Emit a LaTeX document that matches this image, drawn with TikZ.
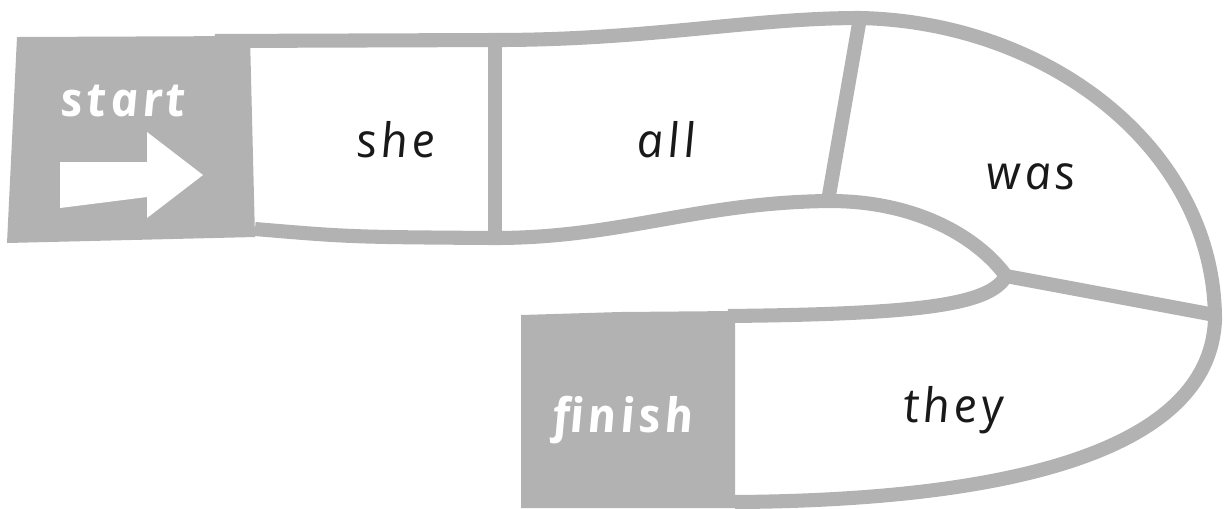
\documentclass[tikz,border=0pt]{standalone}
\usepackage{fontspec}
\setmainfont{Open Sans}[LetterSpace=8, ItalicFeatures={FakeSlant=-0.12}, BoldItalicFeatures={FakeSlant=-0.12}]
\definecolor{trackgray}{HTML}{B2B2B2}

\begin{document}
\begin{tikzpicture}[
    x=0.01cm, y=-0.01cm,
    node font=\fontsize{13.5}{16}\selectfont\itshape,
    track/.style={line width=4pt, draw=trackgray, line join=round},
    word/.style={text=black!90},
    end label/.style={text=white, font=\bfseries},
]

% Canvas
\useasboundingbox (0,0) rectangle (1229,508);

% Start and finish boxes
\fill[trackgray] (17,37) -- (250,36) -- (255,237) -- (7,243) -- cycle;
\fill[trackgray] (521,315) -- (620,312) -- (735,311) -- (735,508) -- (521,508) -- cycle;

% Outer edge of the track
\draw[track] (215,41) -- (495,40) .. controls (650,40) and (750,18) .. (860,18)
    .. controls (1050,22) and (1215,150) .. (1215,320)
    .. controls (1210,440) and (1040,500) .. (735,502);

% Inner edge of the track
\draw[track] (255,229) .. controls (350,237) .. (495,238)
    .. controls (620,238) and (700,202) .. (830,201)
    .. controls (920,201) and (980,240) .. (1006,276)
    .. controls (990,305) and (920,314) .. (728,316);

% Dividers between the squares
\draw[track] (495,40) -- (495,238);
\draw[track] (860,18) -- (828,201);
\draw[track] (1006,276) -- (1215,315);

% Start arrow
\fill[white] (60,162) -- (147,162) -- (147,132) -- (203,175) -- (147,218)
    -- (147,197) -- (60,208) -- cycle;

% Labels
\node[end label] (start) at (125,101) {start};
\node[end label] (finish) at (625,420) {finish};
\node[word] (she) at (398,140) {she};
\node[word] (all) at (668,140) {all};
\node[word] (was) at (1033,177) {was};
\node[word] (they) at (955,410) {they};

\end{tikzpicture}
\end{document}
